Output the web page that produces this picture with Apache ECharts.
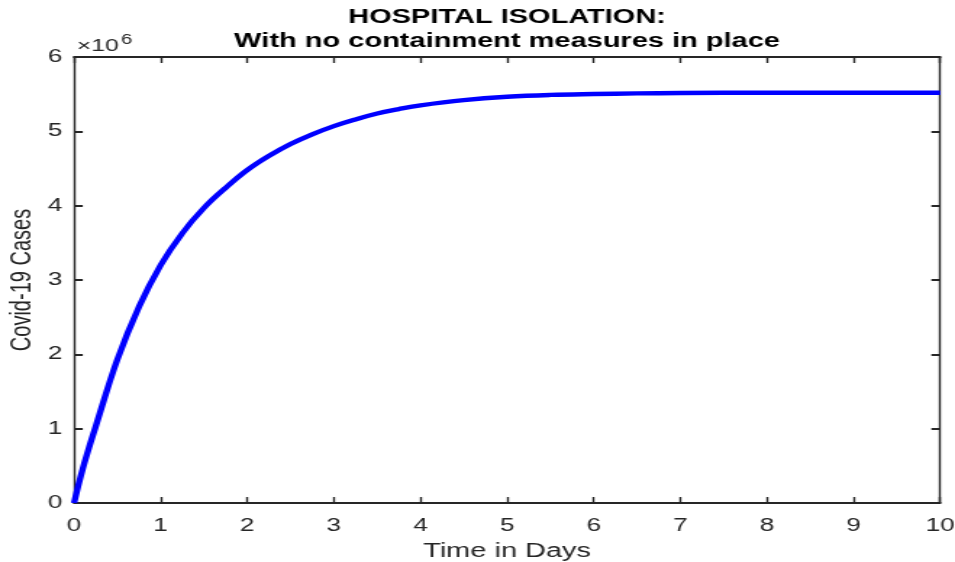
<!DOCTYPE html>
<html>
<head>
<meta charset="utf-8">
<script src="https://cdn.jsdelivr.net/npm/echarts@6/dist/echarts.min.js"></script>
<style>
  html, body { margin: 0; padding: 0; background: #fff; overflow: hidden; }
  #wrap { width: 955px; height: 562px; overflow: hidden; }
  /* the figure is drawn narrow and widened horizontally */
  #chart { width: 659px; height: 562px; transform: scaleX(1.4492); transform-origin: 0 0; }
</style>
</head>
<body>
<div id="wrap"><div id="chart"></div></div>
<script>
// Time in days
const days = [0, 0.1, 0.25, 0.5, 0.75, 1.0, 1.25, 1.5, 1.75, 2.0, 2.25, 2.5, 2.75, 3.0,
              3.25, 3.5, 3.75, 4.0, 4.5, 5.0, 5.5, 6.0, 6.5, 7.0, 8.0, 9.0, 10.0];
// Cumulative Covid-19 cases under hospital isolation
const cases = [0, 460000, 1030000, 1930000, 2640000, 3200000, 3630000, 3970000, 4240000,
               4480000, 4670000, 4830000, 4960000, 5070000, 5160000, 5240000, 5300000,
               5350000, 5420000, 5465000, 5490000, 5502000, 5510000, 5515000, 5520000,
               5520000, 5520000];
const xTicks = [0, 1, 2, 3, 4, 5, 6, 7, 8, 9, 10];
const yTickLabels = ['0', '1', '2', '3', '4', '5', '6'];

const titleLines = ['HOSPITAL ISOLATION:', 'With no containment measures in place'];
const yName = 'Covid-19 Cases';

const FONT = '"Liberation Sans", Arial, Helvetica, sans-serif';
const AX = '#262626';

const chart = echarts.init(document.getElementById('chart'), null, { renderer: 'canvas' });

const grid = { left: 51.1, right: 10.3, top: 57, bottom: 59, outerBoundsMode: 'none', containLabel: false };
const plotCenterX = grid.left + (659 - grid.left - grid.right) / 2;
const plotCenterY = grid.top + (562 - grid.top - grid.bottom) / 2;

const boxAxisX = {
  type: 'value', min: 0, max: 10, interval: 1,
  axisLine: { show: true, onZero: false, lineStyle: { color: AX, width: 2 } },
  axisTick: { show: true, inside: true, length: 6, lineStyle: { color: AX, width: 1.4 } },
  splitLine: { show: false }
};
const boxAxisY = {
  type: 'value', min: 0, max: 6000000, interval: 1000000,
  axisLine: { show: true, onZero: false, lineStyle: { color: AX, width: 1.4 } },
  axisTick: { show: true, inside: true, length: 6, lineStyle: { color: AX, width: 2 } },
  splitLine: { show: false }
};

chart.setOption({
  animation: false,
  backgroundColor: '#fff',
  grid: grid,
  xAxis: [
    Object.assign({}, boxAxisX, {
      position: 'bottom',
      name: 'Time in Days',
      nameLocation: 'middle',
      nameGap: 38,
      nameTextStyle: { color: AX, fontSize: 20, fontFamily: FONT },
      axisLabel: {
        color: AX, fontSize: 18, fontFamily: FONT, margin: 14,
        formatter: v => xTicks.indexOf(v) >= 0 ? String(v) : ''
      }
    }),
    Object.assign({}, boxAxisX, { position: 'top', axisLabel: { show: false } })
  ],
  yAxis: [
    Object.assign({}, boxAxisY, {
      position: 'left',
      axisLabel: {
        color: AX, fontSize: 18, fontFamily: FONT, margin: 8,
        formatter: v => yTickLabels[Math.round(v / 1000000)]
      }
    }),
    Object.assign({}, boxAxisY, { position: 'right', axisLabel: { show: false } })
  ],
  graphic: [
    {
      type: 'text', x: plotCenterX, y: 5,
      style: {
        text: titleLines.join('\n'),
        fill: '#000', font: 'bold 20px ' + FONT,
        textAlign: 'center', textVerticalAlign: 'top', lineHeight: 24
      }
    },
    {
      // y-axis title
      type: 'text', x: 15.2, y: plotCenterY, rotation: Math.PI / 2,
      style: { text: yName, fill: AX, font: '20px ' + FONT, textAlign: 'center', textVerticalAlign: 'middle' }
    },
    {
      type: 'text', x: 53, y: 55,
      style: { text: '×10', fill: AX, font: '17px ' + FONT, textAlign: 'left', textVerticalAlign: 'bottom' }
    },
    {
      type: 'text', x: 83.6, y: 47,
      style: { text: '6', fill: AX, font: '14px ' + FONT, textAlign: 'left', textVerticalAlign: 'bottom' }
    }
  ],
  series: [{
    type: 'line',
    data: days.map((d, i) => [d, cases[i]]),
    smooth: 0.4,
    showSymbol: false,
    lineStyle: { color: '#0000ff', width: 4.4 },
    itemStyle: { color: '#0000ff' },
    clip: false
  }]
});
</script>
</body>
</html>
